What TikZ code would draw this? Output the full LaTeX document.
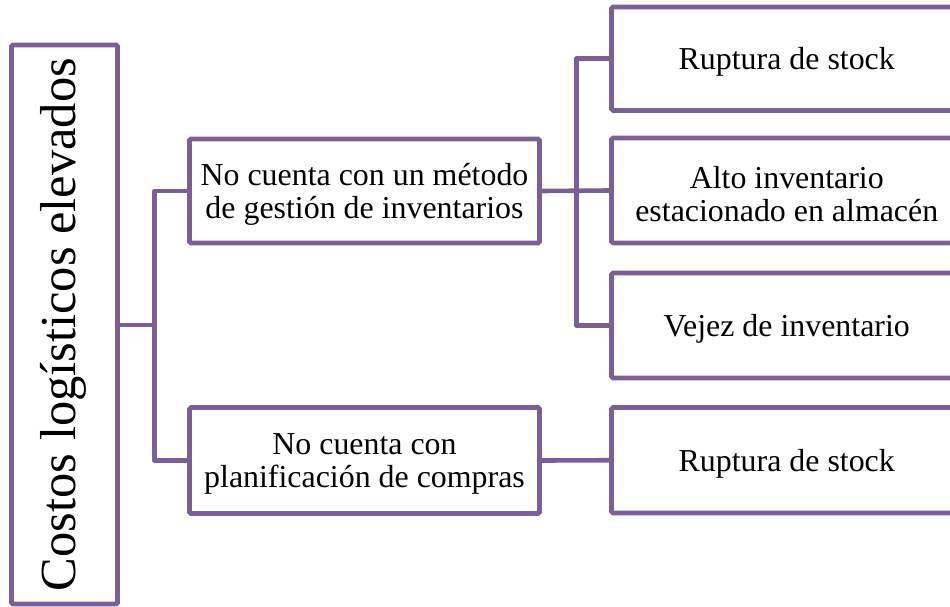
\documentclass[tikz,border=0pt]{standalone}
\usepackage{fontspec}
\setmainfont{Liberation Serif}
\definecolor{lineviolet}{HTML}{7A5F99}
\begin{document}
\begin{tikzpicture}[x=1pt,y=-1pt,
  box/.style={draw=lineviolet, line width=4.6pt, rounded corners=1.5pt, fill=white,
    inner sep=0pt},
  boxtext/.style={align=center, inner sep=0pt, yshift=-3.5pt,
    font=\fontsize{31.9}{32.8}\selectfont, text=black},
  link/.style={draw=lineviolet, line width=4.6pt, line join=round}]
\useasboundingbox (0,0) rectangle (950,607);
\begin{scope}
\clip (0,0) rectangle (950,607);
\node[box, minimum width=106pt, minimum height=559pt,
  label={[inner sep=0pt, xshift=-1pt]center:{\rotatebox{90}{\fontsize{50.5}{55}\selectfont Costos logísticos elevados}}}]
  (main) at (64.5,324.5) {};
\node[box, minimum width=350pt, minimum height=104pt,
  label={[boxtext]center:{No cuenta con un método\\de gestión de inventarios}}]
  (A) at (364.5,191) {};
\node[box, minimum width=350pt, minimum height=106pt,
  label={[boxtext]center:{No cuenta con\\planificación de compras}}]
  (B) at (364.5,460.5) {};
\node[box, minimum width=350.5pt, minimum height=103.5pt,
  label={[boxtext]center:{Ruptura de stock}}]
  (R1) at (786.75,58.75) {};
\node[box, minimum width=350.5pt, minimum height=105pt,
  label={[boxtext]center:{Alto inventario\\estacionado en almacén}}]
  (R2) at (786.75,190.5) {};
\node[box, minimum width=350.5pt, minimum height=105pt,
  label={[boxtext]center:{Vejez de inventario}}]
  (R3) at (786.75,325.5) {};
\node[box, minimum width=350.5pt, minimum height=105.5pt,
  label={[boxtext]center:{Ruptura de stock}}]
  (R4) at (786.75,460.25) {};
\coordinate (j1) at (154.5,325);
\coordinate (bus) at (576.5,0);
\draw[link] (main.east |- j1) -- (j1);
\draw[link] (A.west) -| (j1);
\draw[link] (B.west) -| (j1);
\draw[link] (A.east) -- (R2.west);
\draw[link] (R1.west) -| (bus |- R3.west) -- (R3.west);
\draw[link] (B.east) -- (R4.west);
\end{scope}
\end{tikzpicture}
\end{document}
